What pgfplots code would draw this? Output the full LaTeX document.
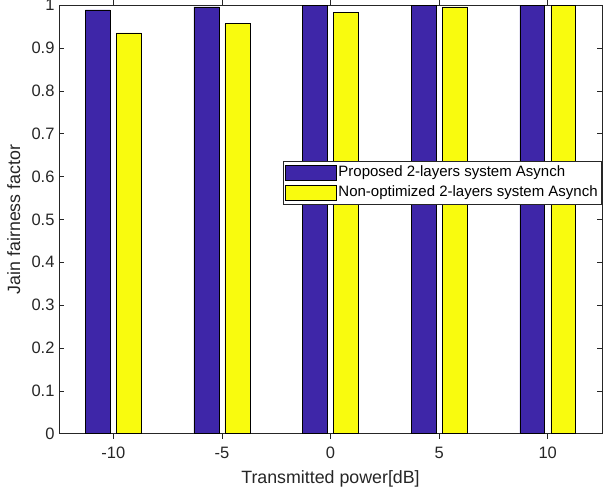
\documentclass[border=0pt]{standalone}
\usepackage{pgfplots}
\pgfplotsset{compat=1.18}
\usepackage{fontspec}
\setmainfont{Liberation Sans}
\definecolor{pblue}{RGB}{62,38,168}
\definecolor{pyellow}{RGB}{249,251,14}
\definecolor{axgray}{RGB}{38,38,38}
\begin{document}
\begin{tikzpicture}
\begin{axis}[
  name=ax,
  at={(0,0)}, anchor=south west,
  scale only axis,
  width=543bp, height=428.5bp,
  xmin=-12.5, xmax=12.5,
  ymin=0, ymax=1,
  xtick={-10,-5,0,5,10},
  ytick={0,0.1,0.2,0.3,0.4,0.5,0.6,0.7,0.8,0.9,1},
  yticklabels={0,0.1,0.2,0.3,0.4,0.5,0.6,0.7,0.8,0.9,1},
  tick align=inside,
  major tick length=5bp,
  axis line style={axgray, line width=0.6bp},
  every tick/.style={axgray, line width=0.6bp},
  tick label style={font=\fontsize{16.5bp}{19bp}\selectfont, text=axgray},
  /pgf/number format/assume math mode=true,
  xticklabel style={yshift=-5bp},
  yticklabel style={xshift=-1bp},
  xlabel={Transmitted power[dB]},
  ylabel={Jain fairness factor},
  label style={font=\fontsize{17.8bp}{20bp}\selectfont, text=axgray},
  xlabel style={yshift=-5bp},
  ylabel style={yshift=4.5bp},
  ybar,
  bar width=1.143,
  legend cell align=left,
  legend style={at={(1,0.637)}, anchor=north east,
    font=\fontsize{15bp}{18bp}\selectfont,
    draw=axgray, line width=0.6bp,
    inner xsep=2bp, inner ysep=1.5bp,
    row sep=0pt,
    nodes={inner xsep=2bp, inner ysep=2bp, text height=12bp, text depth=4bp, text=black}},
  legend image code/.code={\draw[#1] (0bp,-7.5bp) rectangle (51bp,7.5bp);},
]
\addplot[fill=pblue, draw=black, line width=0.5bp, bar shift=-0.714] coordinates {
  (-10,0.989) (-5,0.996) (0,1.0) (5,1.0) (10,1.0)};
\addplot[fill=pyellow, draw=black, line width=0.5bp, bar shift=0.714] coordinates {
  (-10,0.9355) (-5,0.957) (0,0.983) (5,0.996) (10,0.9995)};
\legend{Proposed 2-layers system Asynch, Non-optimized 2-layers system Asynch}
\end{axis}
\pgfresetboundingbox
\path[use as bounding box] (-59bp,-56.3bp) rectangle (544bp,433.7bp);
\end{tikzpicture}
\end{document}
